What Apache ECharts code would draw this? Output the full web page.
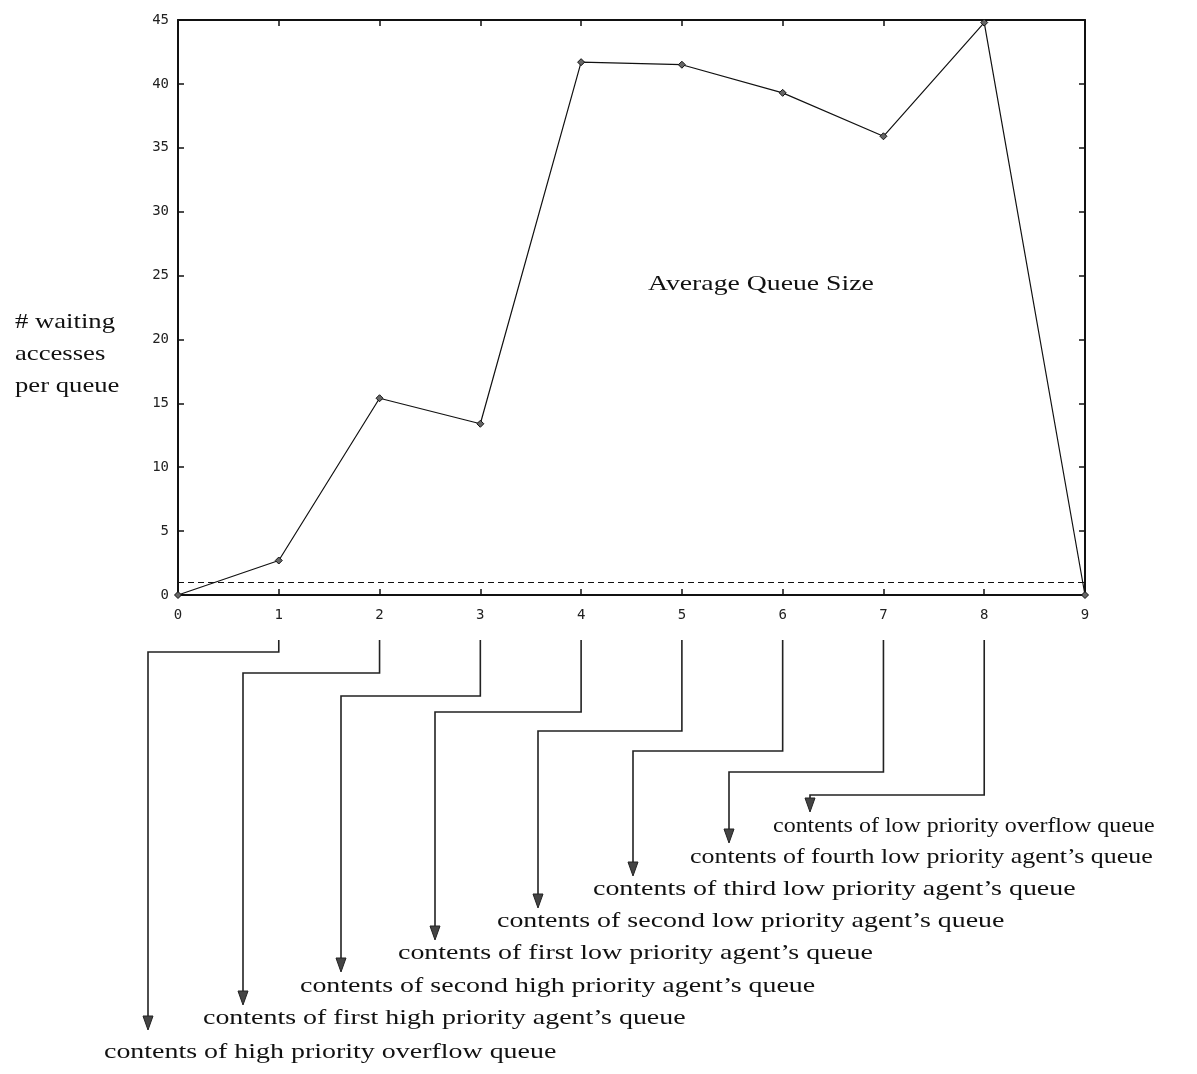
<!DOCTYPE html>
<html>
<head>
<meta charset="utf-8">
<script src="https://cdn.jsdelivr.net/npm/echarts@6/dist/echarts.min.js"></script>
<style>
    html, body { margin: 0; padding: 0; background: #fff; }
    #main { width: 1197px; height: 1074px; }
</style>
</head>
<body>
<div id="main"></div>
<script>
var queueIndex = [0, 1, 2, 3, 4, 5, 6, 7, 8, 9];
var avgQueueSize = [0, 2.7, 15.4, 13.4, 41.7, 41.5, 39.3, 35.9, 44.8, 0];
var referenceLevel = 1;
// which tick each caption belongs to
var labelTicks = [1, 2, 3, 4, 5, 6, 7, 8];
var queueLabels = [
    'contents of high priority overflow queue',
    'contents of first high priority agent\u2019s queue',
    'contents of second high priority agent\u2019s queue',
    'contents of first low priority agent\u2019s queue',
    'contents of second low priority agent\u2019s queue',
    'contents of third low priority agent\u2019s queue',
    'contents of fourth low priority agent\u2019s queue',
    'contents of low priority overflow queue'
];

// leader line layout (pixels), one entry per caption
var elbowY = [652, 673, 696, 712, 731, 751, 772, 795];
var dropX = [148, 243, 341, 435, 538, 633, 729, 810];
var tipY = [1030, 1005, 972, 940, 908, 876, 843, 812];
var textX = [104, 203, 300, 398, 497, 593, 690, 773];
var textY = [1052, 1018, 986, 953, 921, 889, 857, 826];
// the scanned type is set wider than Times; the top two captions are tighter
var textStretch = [1.27, 1.27, 1.27, 1.27, 1.27, 1.27, 1.18, 1.09];

var serif = "'Liberation Serif', 'DejaVu Serif', serif";
var tickFont = { fontFamily: "'DejaVu Sans Mono', monospace", fontSize: 14, color: '#222' };
var boxLine = { onZero: false, lineStyle: { color: '#111', width: 2 } };
var inTick = { show: true, inside: true, length: 6, lineStyle: { color: '#111', width: 1.5 } };

var chart = echarts.init(document.getElementById('main'));

var points = queueIndex.map(function (q, i) { return [q, avgQueueSize[i]]; });

chart.setOption({
    animation: false,
    backgroundColor: '#fff',
    grid: { left: 178, right: 112, top: 20, bottom: 479 },
    xAxis: [
        {
            type: 'value', min: 0, max: 9, interval: 1, position: 'bottom',
            axisLine: boxLine, axisTick: inTick, splitLine: { show: false },
            axisLabel: Object.assign({ margin: 13 }, tickFont)
        },
        {
            type: 'value', min: 0, max: 9, interval: 1, position: 'top',
            axisLine: boxLine, axisTick: inTick, splitLine: { show: false },
            axisLabel: { show: false }
        }
    ],
    yAxis: [
        {
            type: 'value', min: 0, max: 45, interval: 5, position: 'left',
            axisLine: boxLine, axisTick: inTick, splitLine: { show: false },
            axisLabel: Object.assign({ margin: 9 }, tickFont)
        },
        {
            type: 'value', min: 0, max: 45, interval: 5, position: 'right',
            axisLine: boxLine, axisTick: inTick, splitLine: { show: false },
            axisLabel: { show: false }
        }
    ],
    series: [
        {
            type: 'line',
            data: points,
            symbol: 'diamond',
            symbolSize: 7,
            showSymbol: true,
            lineStyle: { color: '#111', width: 1.2 },
            itemStyle: { color: '#666', borderColor: '#111', borderWidth: 1 },
            markLine: {
                silent: true,
                symbol: ['none', 'none'],
                label: { show: false },
                lineStyle: { color: '#111', type: [6, 4], width: 1.2 },
                data: [{ yAxis: referenceLevel }]
            }
        }
    ]
});

var graphics = [];
graphics.push({
    type: 'text',
    x: 648,
    y: 284,
    scaleX: 1.32,
    style: {
        text: 'Average Queue Size',
        font: '21px ' + serif,
        fill: '#111',
        verticalAlign: 'middle'
    }
});
graphics.push({
    type: 'text',
    x: 15,
    y: 306,
    scaleX: 1.27,
    style: {
        text: '# waiting\naccesses\nper queue',
        font: '21px ' + serif,
        lineHeight: 32,
        fill: '#111'
    }
});

labelTicks.forEach(function (t, i) {
    var x = chart.convertToPixel({ xAxisIndex: 0 }, t);
    graphics.push({
        type: 'polyline',
        shape: { points: [[x, 640], [x, elbowY[i]], [dropX[i], elbowY[i]], [dropX[i], tipY[i] - 12]] },
        style: { stroke: '#222', lineWidth: 1.6, fill: null }
    });
    graphics.push({
        type: 'polygon',
        shape: { points: [[dropX[i] - 5, tipY[i] - 14], [dropX[i] + 5, tipY[i] - 14], [dropX[i], tipY[i]]] },
        style: { fill: '#444', stroke: '#222', lineWidth: 1 }
    });
    graphics.push({
        type: 'text',
        x: textX[i],
        y: textY[i],
        scaleX: textStretch[i],
        style: {
            text: queueLabels[i],
            font: '22px ' + serif,
            fill: '#111',
            verticalAlign: 'middle'
        }
    });
});

chart.setOption({ graphic: graphics });
</script>
</body>
</html>
